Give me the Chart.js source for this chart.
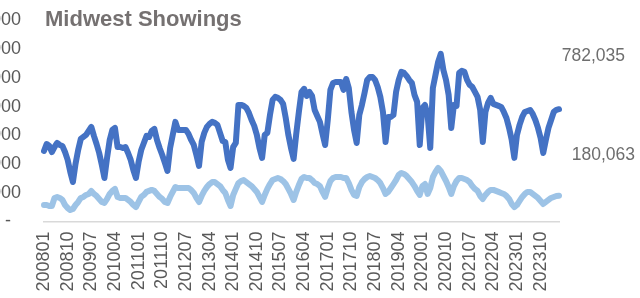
<!DOCTYPE html>
<html>
<head>
<meta charset="utf-8">
<script src="https://cdn.jsdelivr.net/npm/chart.js@4.4.1/dist/chart.umd.min.js"></script>
<style>
html, body { margin: 0; padding: 0; background: #fff; }
#wrap { width: 640px; height: 298px; position: relative; }
</style>
</head>
<body>
<div id="wrap"><canvas id="showings"></canvas></div>
<script>
const chartTitle = 'Midwest Showings';
const firstYear = 2008;

// x labels that are printed (every 9th month)
const tickLabels = ['200801', '200810', '200907', '201004', '201101', '201110', '201207', '201304',
    '201401', '201410', '201507', '201604', '201701', '201710', '201807', '201904',
    '202001', '202010', '202107', '202204', '202301', '202310'];

const yTicks = [0, 200000, 400000, 600000, 800000, 1000000, 1200000, 1400000];

// dark series, Jan 2008 .. May 2024
const showingsTotal = [
    491000, 540000, 526000, 484000, 519000, 547000, 533000, 526000, 484000, 429000, 345000, 275000,
    401000, 498000, 575000, 589000, 603000, 631000, 659000, 596000, 540000, 477000, 394000, 303000,
    443000, 568000, 638000, 652000, 519000, 519000, 512000, 519000, 477000, 429000, 359000, 303000,
    415000, 498000, 547000, 596000, 589000, 631000, 645000, 568000, 512000, 463000, 408000, 352000,
    512000, 603000, 694000, 638000, 638000, 638000, 638000, 610000, 568000, 533000, 463000, 387000,
    554000, 617000, 659000, 680000, 694000, 687000, 673000, 617000, 561000, 554000, 429000, 373000,
    519000, 547000, 812000, 812000, 805000, 791000, 756000, 707000, 666000, 603000, 512000, 443000,
    603000, 617000, 742000, 847000, 868000, 861000, 847000, 819000, 721000, 603000, 512000, 436000,
    610000, 763000, 903000, 924000, 875000, 903000, 875000, 777000, 735000, 694000, 610000, 533000,
    707000, 917000, 965000, 972000, 972000, 972000, 917000, 993000, 930000, 763000, 638000, 547000,
    742000, 812000, 896000, 986000, 1007000, 1007000, 986000, 937000, 868000, 763000, 554000, 728000,
    728000, 742000, 903000, 986000, 1042000, 1035000, 1014000, 986000, 965000, 882000, 833000, 533000,
    791000, 812000, 742000, 512000, 930000, 1021000, 1112000, 1167000, 1056000, 986000, 882000, 652000,
    812000, 805000, 1035000, 1049000, 1042000, 986000, 951000, 937000, 903000, 868000, 777000, 554000,
    763000, 826000, 861000, 819000, 812000, 805000, 798000, 763000, 721000, 652000, 568000, 443000,
    603000, 673000, 728000, 763000, 770000, 777000, 749000, 707000, 652000, 582000, 477000, 568000,
    652000, 707000, 763000, 777000, 782035
];

// light series, Jan 2008 .. May 2024
const showingsSecond = [
    115000, 115000, 108000, 108000, 164000, 171000, 164000, 150000, 115000, 94000, 80000, 87000,
    115000, 136000, 164000, 171000, 185000, 192000, 213000, 192000, 178000, 157000, 136000, 129000,
    157000, 192000, 213000, 227000, 171000, 164000, 164000, 164000, 150000, 136000, 115000, 101000,
    136000, 171000, 185000, 206000, 213000, 220000, 213000, 192000, 171000, 157000, 136000, 129000,
    171000, 206000, 240000, 233000, 233000, 233000, 233000, 233000, 220000, 199000, 164000, 136000,
    178000, 213000, 240000, 261000, 275000, 275000, 261000, 247000, 220000, 199000, 150000, 108000,
    185000, 227000, 268000, 282000, 289000, 275000, 261000, 247000, 227000, 206000, 171000, 136000,
    185000, 227000, 261000, 289000, 296000, 303000, 296000, 282000, 261000, 227000, 192000, 150000,
    206000, 254000, 296000, 310000, 303000, 303000, 289000, 268000, 261000, 247000, 206000, 171000,
    233000, 282000, 303000, 310000, 310000, 310000, 303000, 303000, 268000, 220000, 185000, 178000,
    240000, 275000, 296000, 310000, 317000, 310000, 303000, 289000, 268000, 233000, 192000, 206000,
    233000, 261000, 289000, 324000, 338000, 331000, 317000, 296000, 275000, 247000, 213000, 185000,
    247000, 261000, 192000, 233000, 310000, 345000, 373000, 352000, 317000, 282000, 240000, 192000,
    247000, 282000, 303000, 303000, 296000, 289000, 275000, 247000, 227000, 213000, 178000, 157000,
    185000, 206000, 220000, 220000, 213000, 206000, 199000, 192000, 178000, 157000, 122000, 101000,
    115000, 143000, 171000, 192000, 206000, 206000, 192000, 178000, 164000, 143000, 122000, 136000,
    150000, 164000, 171000, 178000, 180063
];

// month categories YYYYMM
const months = [];
for (let i = 0; i < showingsTotal.length; i++) {
    const y = firstYear + Math.floor(i / 12);
    const m = (i % 12) + 1;
    months.push(String(y) + (m < 10 ? '0' : '') + m);
}

const tickFont = '"Liberation Sans", Arial, sans-serif';

function fmt(v) {
    return Math.round(v).toLocaleString('en-US');
}

const annotate = {
    id: 'annotate',
    afterDraw(chart) {
        const ctx = chart.ctx;
        const area = chart.chartArea;
        ctx.save();
        ctx.textBaseline = 'middle';
        ctx.textAlign = 'left';
        ctx.fillStyle = '#757171';
        ctx.font = 'bold 22px ' + tickFont;
        ctx.fillText(chartTitle, area.left + 1, 20);
        ctx.fillStyle = '#6e6e6e';
        ctx.font = '17.5px ' + tickFont;
        ctx.textAlign = 'right';
        ctx.fillText(fmt(showingsTotal[showingsTotal.length - 1]), area.right + 66, 56);
        ctx.fillText(fmt(showingsSecond[showingsSecond.length - 1]), area.right + 76, 155);
        ctx.restore();
    }
};

const data = {
    labels: months,
    datasets: [
        {
            label: 'Series 1',
            data: showingsTotal,
            borderColor: '#4472C4',
            backgroundColor: '#4472C4',
            borderWidth: 6,
            pointRadius: 0,
            tension: 0,
            borderJoinStyle: 'round',
            borderCapStyle: 'round'
        },
        {
            label: 'Series 2',
            data: showingsSecond,
            borderColor: '#9DC3E6',
            backgroundColor: '#9DC3E6',
            borderWidth: 6,
            pointRadius: 0,
            tension: 0,
            borderJoinStyle: 'round',
            borderCapStyle: 'round'
        }
    ]
};

const config = {
    type: 'line',
    data: data,
    options: {
        responsive: true,
        maintainAspectRatio: false,
        animation: false,
        layout: {
            padding: { top: 20.5, right: 81, left: 0, bottom: 0 }
        },
        plugins: {
            legend: { display: false },
            title: { display: false },
            tooltip: { enabled: false }
        },
        scales: {
            x: {
                offset: false,
                grid: { display: false, drawTicks: false },
                border: { display: true, color: '#d9d9d9', width: 1.5 },
                afterFit: function (scale) {
                    scale.height = 76.5;
                    scale.paddingLeft = 0;
                    scale.paddingRight = 0;
                },
                ticks: {
                    autoSkip: false,
                    minRotation: 90,
                    maxRotation: 90,
                    padding: 10,
                    color: '#595959',
                    font: { family: tickFont, size: 18 },
                    callback: function (val) {
                        const lab = this.getLabelForValue(val);
                        return tickLabels.includes(lab) ? lab : '';
                    }
                }
            },
            y: {
                min: 0,
                max: 1400000,
                grid: { display: false, drawTicks: false },
                border: { display: false },
                afterFit: function (scale) {
                    scale.width = 44;
                    scale.paddingTop = 0;
                    scale.paddingBottom = 0;
                },
                afterBuildTicks: function (scale) {
                    scale.ticks = yTicks.map(v => ({ value: v }));
                },
                ticks: {
                    autoSkip: false,
                    padding: 23,
                    color: '#595959',
                    font: { family: tickFont, size: 18 },
                    callback: function (v) {
                        return v === 0 ? '-  ' : fmt(v);
                    }
                }
            }
        }
    },
    plugins: [annotate]
};

new Chart(
    document.getElementById('showings'),
    config
);
</script>
</body>
</html>
